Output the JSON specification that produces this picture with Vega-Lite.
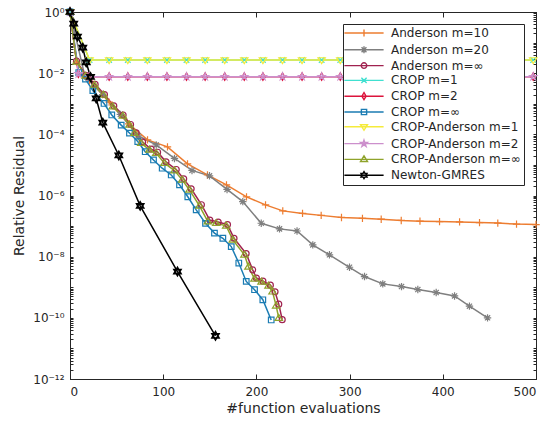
{
  "$schema": "https://vega.github.io/schema/vega-lite/v6.json",
  "width": 466,
  "height": 367,
  "autosize": {"type": "none"},
  "padding": {"left": 70, "top": 12, "right": 11, "bottom": 47},
  "config": {
    "font": "DejaVu Sans",
    "view": {"stroke": "#262626", "strokeWidth": 1},
    "axis": {"labelFont": "DejaVu Sans", "titleFont": "DejaVu Sans", "labelColor": "#262626", "titleColor": "#262626", "domainColor": "#262626", "tickColor": "#262626", "labelFontSize": 12, "titleFontSize": 14, "titleFontWeight": "normal", "grid": false},
    "legend": {"labelFont": "DejaVu Sans", "labelFontSize": 12, "labelColor": "#262626"}
  },
  "data": {"values": [
    {"series": "Anderson m=10", "x": 0, "y": 1},
    {"series": "Anderson m=10", "x": 7, "y": 0.023},
    {"series": "Anderson m=10", "x": 21, "y": 0.0059},
    {"series": "Anderson m=10", "x": 42, "y": 0.00113},
    {"series": "Anderson m=10", "x": 63, "y": 0.00022},
    {"series": "Anderson m=10", "x": 83.2, "y": 6.6e-5},
    {"series": "Anderson m=10", "x": 104.6, "y": 3.9e-5},
    {"series": "Anderson m=10", "x": 126.1, "y": 1.08e-5},
    {"series": "Anderson m=10", "x": 147.5, "y": 4.7e-6},
    {"series": "Anderson m=10", "x": 167.9, "y": 2.22e-6},
    {"series": "Anderson m=10", "x": 189.4, "y": 9.0e-7},
    {"series": "Anderson m=10", "x": 209.8, "y": 4.93e-7},
    {"series": "Anderson m=10", "x": 228.3, "y": 3.14e-7},
    {"series": "Anderson m=10", "x": 249.5, "y": 2.6e-7},
    {"series": "Anderson m=10", "x": 269.5, "y": 2.24e-7},
    {"series": "Anderson m=10", "x": 291.3, "y": 1.92e-7},
    {"series": "Anderson m=10", "x": 313.8, "y": 1.79e-7},
    {"series": "Anderson m=10", "x": 333.9, "y": 1.68e-7},
    {"series": "Anderson m=10", "x": 355.4, "y": 1.53e-7},
    {"series": "Anderson m=10", "x": 375.5, "y": 1.45e-7},
    {"series": "Anderson m=10", "x": 396.5, "y": 1.4e-7},
    {"series": "Anderson m=10", "x": 418, "y": 1.37e-7},
    {"series": "Anderson m=10", "x": 439.4, "y": 1.3e-7},
    {"series": "Anderson m=10", "x": 459, "y": 1.25e-7},
    {"series": "Anderson m=10", "x": 479.1, "y": 1.16e-7},
    {"series": "Anderson m=10", "x": 500, "y": 1.12e-7},

    {"series": "Anderson m=20", "x": 0, "y": 1},
    {"series": "Anderson m=20", "x": 16, "y": 0.0079},
    {"series": "Anderson m=20", "x": 35, "y": 0.002},
    {"series": "Anderson m=20", "x": 54, "y": 0.00045},
    {"series": "Anderson m=20", "x": 73, "y": 9.0e-5},
    {"series": "Anderson m=20", "x": 92.5, "y": 4.5e-5},
    {"series": "Anderson m=20", "x": 112.1, "y": 1.63e-5},
    {"series": "Anderson m=20", "x": 130.9, "y": 6.6e-6},
    {"series": "Anderson m=20", "x": 149.7, "y": 4.4e-6},
    {"series": "Anderson m=20", "x": 168.5, "y": 1.58e-6},
    {"series": "Anderson m=20", "x": 185.4, "y": 6.3e-7},
    {"series": "Anderson m=20", "x": 205.2, "y": 1.24e-7},
    {"series": "Anderson m=20", "x": 224.8, "y": 8.1e-8},
    {"series": "Anderson m=20", "x": 243.6, "y": 6.9e-8},
    {"series": "Anderson m=20", "x": 260.5, "y": 2.43e-8},
    {"series": "Anderson m=20", "x": 278.4, "y": 1.15e-8},
    {"series": "Anderson m=20", "x": 299.9, "y": 4.5e-9},
    {"series": "Anderson m=20", "x": 316, "y": 2.24e-9},
    {"series": "Anderson m=20", "x": 335.6, "y": 1.29e-9},
    {"series": "Anderson m=20", "x": 355.7, "y": 1.05e-9},
    {"series": "Anderson m=20", "x": 373.2, "y": 8.4e-10},
    {"series": "Anderson m=20", "x": 392.9, "y": 6.7e-10},
    {"series": "Anderson m=20", "x": 412.6, "y": 5.2e-10},
    {"series": "Anderson m=20", "x": 428.6, "y": 2.41e-10},
    {"series": "Anderson m=20", "x": 448, "y": 1.0e-10},

    {"series": "Anderson m=∞", "x": 0, "y": 1},
    {"series": "Anderson m=∞", "x": 7, "y": 0.025},
    {"series": "Anderson m=∞", "x": 17, "y": 0.0085},
    {"series": "Anderson m=∞", "x": 27, "y": 0.0043},
    {"series": "Anderson m=∞", "x": 37, "y": 0.002},
    {"series": "Anderson m=∞", "x": 47, "y": 0.00085},
    {"series": "Anderson m=∞", "x": 57, "y": 0.00043},
    {"series": "Anderson m=∞", "x": 65, "y": 0.00021},
    {"series": "Anderson m=∞", "x": 71, "y": 0.000112},
    {"series": "Anderson m=∞", "x": 78, "y": 5.6e-5},
    {"series": "Anderson m=∞", "x": 87, "y": 3.3e-5},
    {"series": "Anderson m=∞", "x": 94, "y": 2.6e-5},
    {"series": "Anderson m=∞", "x": 103, "y": 1.26e-5},
    {"series": "Anderson m=∞", "x": 114, "y": 7.1e-6},
    {"series": "Anderson m=∞", "x": 122, "y": 3.5e-6},
    {"series": "Anderson m=∞", "x": 130, "y": 1.66e-6},
    {"series": "Anderson m=∞", "x": 141, "y": 5.0e-7},
    {"series": "Anderson m=∞", "x": 150, "y": 1.58e-7},
    {"series": "Anderson m=∞", "x": 159, "y": 1.35e-7},
    {"series": "Anderson m=∞", "x": 169, "y": 1.12e-7},
    {"series": "Anderson m=∞", "x": 176, "y": 4.0e-8},
    {"series": "Anderson m=∞", "x": 189, "y": 1.26e-8},
    {"series": "Anderson m=∞", "x": 196, "y": 3.7e-9},
    {"series": "Anderson m=∞", "x": 200, "y": 2.0e-9},
    {"series": "Anderson m=∞", "x": 207, "y": 1.58e-9},
    {"series": "Anderson m=∞", "x": 215, "y": 1.17e-9},
    {"series": "Anderson m=∞", "x": 220, "y": 7.1e-10},
    {"series": "Anderson m=∞", "x": 224, "y": 2.8e-10},
    {"series": "Anderson m=∞", "x": 227.7, "y": 8.7e-11},

    {"series": "CROP m=1", "x": 0, "y": 1},
    {"series": "CROP m=1", "x": 21, "y": 0.027},
    {"series": "CROP m=1", "x": 42, "y": 0.027},
    {"series": "CROP m=1", "x": 62, "y": 0.027},
    {"series": "CROP m=1", "x": 83, "y": 0.027},
    {"series": "CROP m=1", "x": 104, "y": 0.027},
    {"series": "CROP m=1", "x": 125, "y": 0.027},
    {"series": "CROP m=1", "x": 145, "y": 0.027},
    {"series": "CROP m=1", "x": 166, "y": 0.027},
    {"series": "CROP m=1", "x": 187, "y": 0.027},
    {"series": "CROP m=1", "x": 207, "y": 0.027},
    {"series": "CROP m=1", "x": 228, "y": 0.027},
    {"series": "CROP m=1", "x": 249, "y": 0.027},
    {"series": "CROP m=1", "x": 270, "y": 0.027},
    {"series": "CROP m=1", "x": 290, "y": 0.027},
    {"series": "CROP m=1", "x": 311, "y": 0.027},
    {"series": "CROP m=1", "x": 332, "y": 0.027},
    {"series": "CROP m=1", "x": 352, "y": 0.027},
    {"series": "CROP m=1", "x": 373, "y": 0.027},
    {"series": "CROP m=1", "x": 394, "y": 0.027},
    {"series": "CROP m=1", "x": 414, "y": 0.027},
    {"series": "CROP m=1", "x": 435, "y": 0.027},
    {"series": "CROP m=1", "x": 456, "y": 0.027},
    {"series": "CROP m=1", "x": 476, "y": 0.027},
    {"series": "CROP m=1", "x": 497, "y": 0.027},

    {"series": "CROP m=2", "x": 0, "y": 1},
    {"series": "CROP m=2", "x": 9, "y": 0.0095},
    {"series": "CROP m=2", "x": 21, "y": 0.0077},
    {"series": "CROP m=2", "x": 42, "y": 0.0077},
    {"series": "CROP m=2", "x": 62, "y": 0.0077},
    {"series": "CROP m=2", "x": 83, "y": 0.0077},
    {"series": "CROP m=2", "x": 104, "y": 0.0077},
    {"series": "CROP m=2", "x": 125, "y": 0.0077},
    {"series": "CROP m=2", "x": 145, "y": 0.0077},
    {"series": "CROP m=2", "x": 166, "y": 0.0077},
    {"series": "CROP m=2", "x": 187, "y": 0.0077},
    {"series": "CROP m=2", "x": 207, "y": 0.0077},
    {"series": "CROP m=2", "x": 228, "y": 0.0077},
    {"series": "CROP m=2", "x": 249, "y": 0.0077},
    {"series": "CROP m=2", "x": 270, "y": 0.0077},
    {"series": "CROP m=2", "x": 290, "y": 0.0077},
    {"series": "CROP m=2", "x": 311, "y": 0.0077},
    {"series": "CROP m=2", "x": 332, "y": 0.0077},
    {"series": "CROP m=2", "x": 352, "y": 0.0077},
    {"series": "CROP m=2", "x": 373, "y": 0.0077},
    {"series": "CROP m=2", "x": 394, "y": 0.0077},
    {"series": "CROP m=2", "x": 414, "y": 0.0077},
    {"series": "CROP m=2", "x": 435, "y": 0.0077},
    {"series": "CROP m=2", "x": 456, "y": 0.0077},
    {"series": "CROP m=2", "x": 476, "y": 0.0077},
    {"series": "CROP m=2", "x": 497, "y": 0.0077},

    {"series": "CROP m=∞", "x": 0, "y": 1},
    {"series": "CROP m=∞", "x": 9.4, "y": 0.0105},
    {"series": "CROP m=∞", "x": 16.6, "y": 0.0064},
    {"series": "CROP m=∞", "x": 24.5, "y": 0.0027},
    {"series": "CROP m=∞", "x": 36.5, "y": 0.00102},
    {"series": "CROP m=∞", "x": 44.8, "y": 0.00043},
    {"series": "CROP m=∞", "x": 54.9, "y": 0.0002},
    {"series": "CROP m=∞", "x": 63.8, "y": 0.00011},
    {"series": "CROP m=∞", "x": 72.7, "y": 5.8e-5},
    {"series": "CROP m=∞", "x": 80.7, "y": 2.7e-5},
    {"series": "CROP m=∞", "x": 89.6, "y": 1.45e-5},
    {"series": "CROP m=∞", "x": 98.9, "y": 7.8e-6},
    {"series": "CROP m=∞", "x": 108.6, "y": 4.7e-6},
    {"series": "CROP m=∞", "x": 117.5, "y": 2.24e-6},
    {"series": "CROP m=∞", "x": 126.4, "y": 9.1e-7},
    {"series": "CROP m=∞", "x": 135.4, "y": 3.4e-7},
    {"series": "CROP m=∞", "x": 145.4, "y": 1.23e-7},
    {"series": "CROP m=∞", "x": 155, "y": 5.9e-8},
    {"series": "CROP m=∞", "x": 164, "y": 4.0e-8},
    {"series": "CROP m=∞", "x": 173, "y": 2.14e-8},
    {"series": "CROP m=∞", "x": 181.1, "y": 6.2e-9},
    {"series": "CROP m=∞", "x": 189.1, "y": 1.55e-9},
    {"series": "CROP m=∞", "x": 198, "y": 8.3e-10},
    {"series": "CROP m=∞", "x": 206.9, "y": 3.9e-10},
    {"series": "CROP m=∞", "x": 215.9, "y": 8.5e-11},

    {"series": "CROP-Anderson m=1", "x": 0, "y": 1},
    {"series": "CROP-Anderson m=1", "x": 21, "y": 0.027},
    {"series": "CROP-Anderson m=1", "x": 42, "y": 0.027},
    {"series": "CROP-Anderson m=1", "x": 62, "y": 0.027},
    {"series": "CROP-Anderson m=1", "x": 83, "y": 0.027},
    {"series": "CROP-Anderson m=1", "x": 104, "y": 0.027},
    {"series": "CROP-Anderson m=1", "x": 125, "y": 0.027},
    {"series": "CROP-Anderson m=1", "x": 145, "y": 0.027},
    {"series": "CROP-Anderson m=1", "x": 166, "y": 0.027},
    {"series": "CROP-Anderson m=1", "x": 187, "y": 0.027},
    {"series": "CROP-Anderson m=1", "x": 207, "y": 0.027},
    {"series": "CROP-Anderson m=1", "x": 228, "y": 0.027},
    {"series": "CROP-Anderson m=1", "x": 249, "y": 0.027},
    {"series": "CROP-Anderson m=1", "x": 270, "y": 0.027},
    {"series": "CROP-Anderson m=1", "x": 290, "y": 0.027},
    {"series": "CROP-Anderson m=1", "x": 311, "y": 0.027},
    {"series": "CROP-Anderson m=1", "x": 332, "y": 0.027},
    {"series": "CROP-Anderson m=1", "x": 352, "y": 0.027},
    {"series": "CROP-Anderson m=1", "x": 373, "y": 0.027},
    {"series": "CROP-Anderson m=1", "x": 394, "y": 0.027},
    {"series": "CROP-Anderson m=1", "x": 414, "y": 0.027},
    {"series": "CROP-Anderson m=1", "x": 435, "y": 0.027},
    {"series": "CROP-Anderson m=1", "x": 456, "y": 0.027},
    {"series": "CROP-Anderson m=1", "x": 476, "y": 0.027},
    {"series": "CROP-Anderson m=1", "x": 497, "y": 0.027},

    {"series": "CROP-Anderson m=2", "x": 0, "y": 1},
    {"series": "CROP-Anderson m=2", "x": 9, "y": 0.0095},
    {"series": "CROP-Anderson m=2", "x": 21, "y": 0.0077},
    {"series": "CROP-Anderson m=2", "x": 42, "y": 0.0077},
    {"series": "CROP-Anderson m=2", "x": 62, "y": 0.0077},
    {"series": "CROP-Anderson m=2", "x": 83, "y": 0.0077},
    {"series": "CROP-Anderson m=2", "x": 104, "y": 0.0077},
    {"series": "CROP-Anderson m=2", "x": 125, "y": 0.0077},
    {"series": "CROP-Anderson m=2", "x": 145, "y": 0.0077},
    {"series": "CROP-Anderson m=2", "x": 166, "y": 0.0077},
    {"series": "CROP-Anderson m=2", "x": 187, "y": 0.0077},
    {"series": "CROP-Anderson m=2", "x": 207, "y": 0.0077},
    {"series": "CROP-Anderson m=2", "x": 228, "y": 0.0077},
    {"series": "CROP-Anderson m=2", "x": 249, "y": 0.0077},
    {"series": "CROP-Anderson m=2", "x": 270, "y": 0.0077},
    {"series": "CROP-Anderson m=2", "x": 290, "y": 0.0077},
    {"series": "CROP-Anderson m=2", "x": 311, "y": 0.0077},
    {"series": "CROP-Anderson m=2", "x": 332, "y": 0.0077},
    {"series": "CROP-Anderson m=2", "x": 352, "y": 0.0077},
    {"series": "CROP-Anderson m=2", "x": 373, "y": 0.0077},
    {"series": "CROP-Anderson m=2", "x": 394, "y": 0.0077},
    {"series": "CROP-Anderson m=2", "x": 414, "y": 0.0077},
    {"series": "CROP-Anderson m=2", "x": 435, "y": 0.0077},
    {"series": "CROP-Anderson m=2", "x": 456, "y": 0.0077},
    {"series": "CROP-Anderson m=2", "x": 476, "y": 0.0077},
    {"series": "CROP-Anderson m=2", "x": 497, "y": 0.0077},

    {"series": "CROP-Anderson m=∞", "x": 0, "y": 1},
    {"series": "CROP-Anderson m=∞", "x": 7, "y": 0.0232},
    {"series": "CROP-Anderson m=∞", "x": 16.6, "y": 0.0081},
    {"series": "CROP-Anderson m=∞", "x": 26.3, "y": 0.0041},
    {"series": "CROP-Anderson m=∞", "x": 35.9, "y": 0.00194},
    {"series": "CROP-Anderson m=∞", "x": 45.9, "y": 0.0008},
    {"series": "CROP-Anderson m=∞", "x": 56.7, "y": 0.0004},
    {"series": "CROP-Anderson m=∞", "x": 63.8, "y": 0.000203},
    {"series": "CROP-Anderson m=∞", "x": 69.2, "y": 0.000109},
    {"series": "CROP-Anderson m=∞", "x": 76.4, "y": 5.1e-5},
    {"series": "CROP-Anderson m=∞", "x": 85.3, "y": 3.1e-5},
    {"series": "CROP-Anderson m=∞", "x": 92.5, "y": 2.41e-5},
    {"series": "CROP-Anderson m=∞", "x": 101.4, "y": 1.14e-5},
    {"series": "CROP-Anderson m=∞", "x": 112.1, "y": 6.5e-6},
    {"series": "CROP-Anderson m=∞", "x": 120.4, "y": 3.24e-6},
    {"series": "CROP-Anderson m=∞", "x": 128.2, "y": 1.52e-6},
    {"series": "CROP-Anderson m=∞", "x": 138.9, "y": 4.57e-7},
    {"series": "CROP-Anderson m=∞", "x": 147.9, "y": 1.4e-7},
    {"series": "CROP-Anderson m=∞", "x": 156.9, "y": 1.24e-7},
    {"series": "CROP-Anderson m=∞", "x": 167.6, "y": 1.02e-7},
    {"series": "CROP-Anderson m=∞", "x": 174.7, "y": 3.54e-8},
    {"series": "CROP-Anderson m=∞", "x": 187.2, "y": 1.15e-8},
    {"series": "CROP-Anderson m=∞", "x": 191.5, "y": 4.65e-9},
    {"series": "CROP-Anderson m=∞", "x": 198, "y": 1.88e-9},
    {"series": "CROP-Anderson m=∞", "x": 205.5, "y": 1.5e-9},
    {"series": "CROP-Anderson m=∞", "x": 213, "y": 1.11e-9},
    {"series": "CROP-Anderson m=∞", "x": 217.3, "y": 7.1e-10},
    {"series": "CROP-Anderson m=∞", "x": 221.2, "y": 2.47e-10},
    {"series": "CROP-Anderson m=∞", "x": 224, "y": 9.8e-11},

    {"series": "Newton-GMRES", "x": 0, "y": 1},
    {"series": "Newton-GMRES", "x": 4, "y": 0.42},
    {"series": "Newton-GMRES", "x": 8, "y": 0.158},
    {"series": "Newton-GMRES", "x": 13.7, "y": 0.068},
    {"series": "Newton-GMRES", "x": 17.4, "y": 0.0227},
    {"series": "Newton-GMRES", "x": 22, "y": 0.00751},
    {"series": "Newton-GMRES", "x": 28.1, "y": 0.00149},
    {"series": "Newton-GMRES", "x": 35.2, "y": 0.000241},
    {"series": "Newton-GMRES", "x": 52.4, "y": 2.04e-5},
    {"series": "Newton-GMRES", "x": 75.3, "y": 4.57e-7},
    {"series": "Newton-GMRES", "x": 115.3, "y": 3.26e-9},
    {"series": "Newton-GMRES", "x": 156.1, "y": 2.58e-11}
  ]},
  "layer": [
    {
      "mark": {"type": "line", "strokeWidth": 1.5, "clip": true},
      "encoding": {
        "x": {"field": "x", "type": "quantitative", "scale": {"domain": [0, 500], "nice": false},
              "axis": {"values": [0, 100, 200, 300, 400, 500], "tickSize": -5, "labelPadding": 12, "title": "#function evaluations", "titlePadding": 4}},
        "y": {"field": "y", "type": "quantitative", "scale": {"type": "log", "domain": [1e-12, 1], "nice": false},
              "axis": {"values": [1e-12,2e-12,3e-12,4e-12,5e-12,6e-12,7e-12,8e-12,9e-12,1e-11,2e-11,3e-11,4e-11,5e-11,6e-11,7e-11,8e-11,9e-11,1e-10,2e-10,3e-10,4e-10,5e-10,6e-10,7e-10,8e-10,9e-10,1e-9,2e-9,3e-9,4e-9,5e-9,6e-9,7e-9,8e-9,9e-9,1e-8,2e-8,3e-8,4e-8,5e-8,6e-8,7e-8,8e-8,9e-8,1e-7,2e-7,3e-7,4e-7,5e-7,6e-7,7e-7,8e-7,9e-7,1e-6,2e-6,3e-6,4e-6,5e-6,6e-6,7e-6,8e-6,9e-6,1e-5,2e-5,3e-5,4e-5,5e-5,6e-5,7e-5,8e-5,9e-5,1e-4,2e-4,3e-4,4e-4,5e-4,6e-4,7e-4,8e-4,9e-4,1e-3,2e-3,3e-3,4e-3,5e-3,6e-3,7e-3,8e-3,9e-3,1e-2,2e-2,3e-2,4e-2,5e-2,6e-2,7e-2,8e-2,9e-2,1e-1,2e-1,3e-1,4e-1,5e-1,6e-1,7e-1,8e-1,9e-1,1],
                       "tickSize": -3, "labelPadding": 9, "labelOverlap": false, "labelFlush": false,
                       "labelExpr": "(abs(datum.value / pow(10, round(log(datum.value)/LN10)) - 1) < 1e-6) ? ['10⁰','','10⁻²','','10⁻⁴','','10⁻⁶','','10⁻⁸','','10⁻¹⁰','','10⁻¹²'][-round(log(datum.value)/LN10)] : ''",
                       "title": "Relative Residual", "titlePadding": 6}},
        "color": {"field": "series", "type": "nominal",
                  "scale": {"domain": ["Anderson m=10", "Anderson m=20", "Anderson m=∞", "CROP m=1", "CROP m=2", "CROP m=∞", "CROP-Anderson m=1", "CROP-Anderson m=2", "CROP-Anderson m=∞", "Newton-GMRES"],
                            "range": ["#ED7D31", "#7F7F7F", "#A0224F", "#40E0D0", "#DC143C", "#1B7CB3", "#F5EB3B", "#CC8FCC", "#8FA32B", "#000000"]},
                  "legend": {"title": null, "orient": "top-right", "offset": 12, "strokeColor": "#262626", "fillColor": "white", "padding": 3,
                             "symbolSize": 49, "symbolStrokeWidth": 1.4, "symbolOffset": 12, "labelOffset": 21, "rowPadding": 2.8,
                             "encode": {"symbols": {"update": {"shape": {"signal": "'M-5.6,0H5.6' + scale('shape', datum.value)"}, "fill": {"value": "transparent"}, "stroke": {"scale": "color", "field": "value"}, "strokeWidth": {"value": 1.4}}}}}}
      }
    },
    {
      "mark": {"type": "point", "filled": false, "size": 55, "opacity": 1},
      "encoding": {
        "x": {"field": "x", "type": "quantitative", "axis": {"orient": "top", "values": [0, 100, 200, 300, 400, 500], "tickSize": -5, "labels": false, "title": null}},
        "y": {"field": "y", "type": "quantitative", "axis": {"orient": "right", "values": [1e-12,2e-12,3e-12,4e-12,5e-12,6e-12,7e-12,8e-12,9e-12,1e-11,2e-11,3e-11,4e-11,5e-11,6e-11,7e-11,8e-11,9e-11,1e-10,2e-10,3e-10,4e-10,5e-10,6e-10,7e-10,8e-10,9e-10,1e-9,2e-9,3e-9,4e-9,5e-9,6e-9,7e-9,8e-9,9e-9,1e-8,2e-8,3e-8,4e-8,5e-8,6e-8,7e-8,8e-8,9e-8,1e-7,2e-7,3e-7,4e-7,5e-7,6e-7,7e-7,8e-7,9e-7,1e-6,2e-6,3e-6,4e-6,5e-6,6e-6,7e-6,8e-6,9e-6,1e-5,2e-5,3e-5,4e-5,5e-5,6e-5,7e-5,8e-5,9e-5,1e-4,2e-4,3e-4,4e-4,5e-4,6e-4,7e-4,8e-4,9e-4,1e-3,2e-3,3e-3,4e-3,5e-3,6e-3,7e-3,8e-3,9e-3,1e-2,2e-2,3e-2,4e-2,5e-2,6e-2,7e-2,8e-2,9e-2,1e-1,2e-1,3e-1,4e-1,5e-1,6e-1,7e-1,8e-1,9e-1,1], "tickSize": -3, "labels": false, "title": null}},
        "color": {"field": "series", "type": "nominal", "legend": null},
        "shape": {"field": "series", "type": "nominal", "legend": null,
                  "scale": {"domain": ["Newton-GMRES", "CROP-Anderson m=∞", "CROP-Anderson m=2", "CROP-Anderson m=1", "CROP m=∞", "CROP m=2", "CROP m=1", "Anderson m=∞", "Anderson m=20", "Anderson m=10"],
                            "range": ["M0,-1L0.289,-0.5L0.866,-0.5L0.577,0L0.866,0.5L0.289,0.5L0,1L-0.289,0.5L-0.866,0.5L-0.577,0L-0.866,-0.5L-0.289,-0.5Z", "M-1,0.6H1L0,-1Z", "M0,-1L0.225,-0.309L0.951,-0.309L0.363,0.118L0.588,0.809L0,0.382L-0.588,0.809L-0.363,0.118L-0.951,-0.309L-0.225,-0.309Z", "M-1,-0.6H1L0,1Z", "M-0.75,-0.75H0.75V0.75H-0.75Z", "M0,-1L0.6,0L0,1L-0.6,0Z", "M-0.75,-0.75L0.75,0.75M-0.75,0.75L0.75,-0.75", "M0.8,0A0.8,0.8,0,1,1,-0.8,0A0.8,0.8,0,1,1,0.8,0Z", "M-1,0H1M0,-1V1M-0.7,-0.7L0.7,0.7M-0.7,0.7L0.7,-0.7", "M-1,0H1M0,-1V1"]}},
        "strokeWidth": {"condition": {"test": "datum.series === 'Newton-GMRES'", "value": 2}, "value": 1.2}
      }
    }
  ],
  "resolve": {"axis": {"x": "independent", "y": "independent"}}
}
